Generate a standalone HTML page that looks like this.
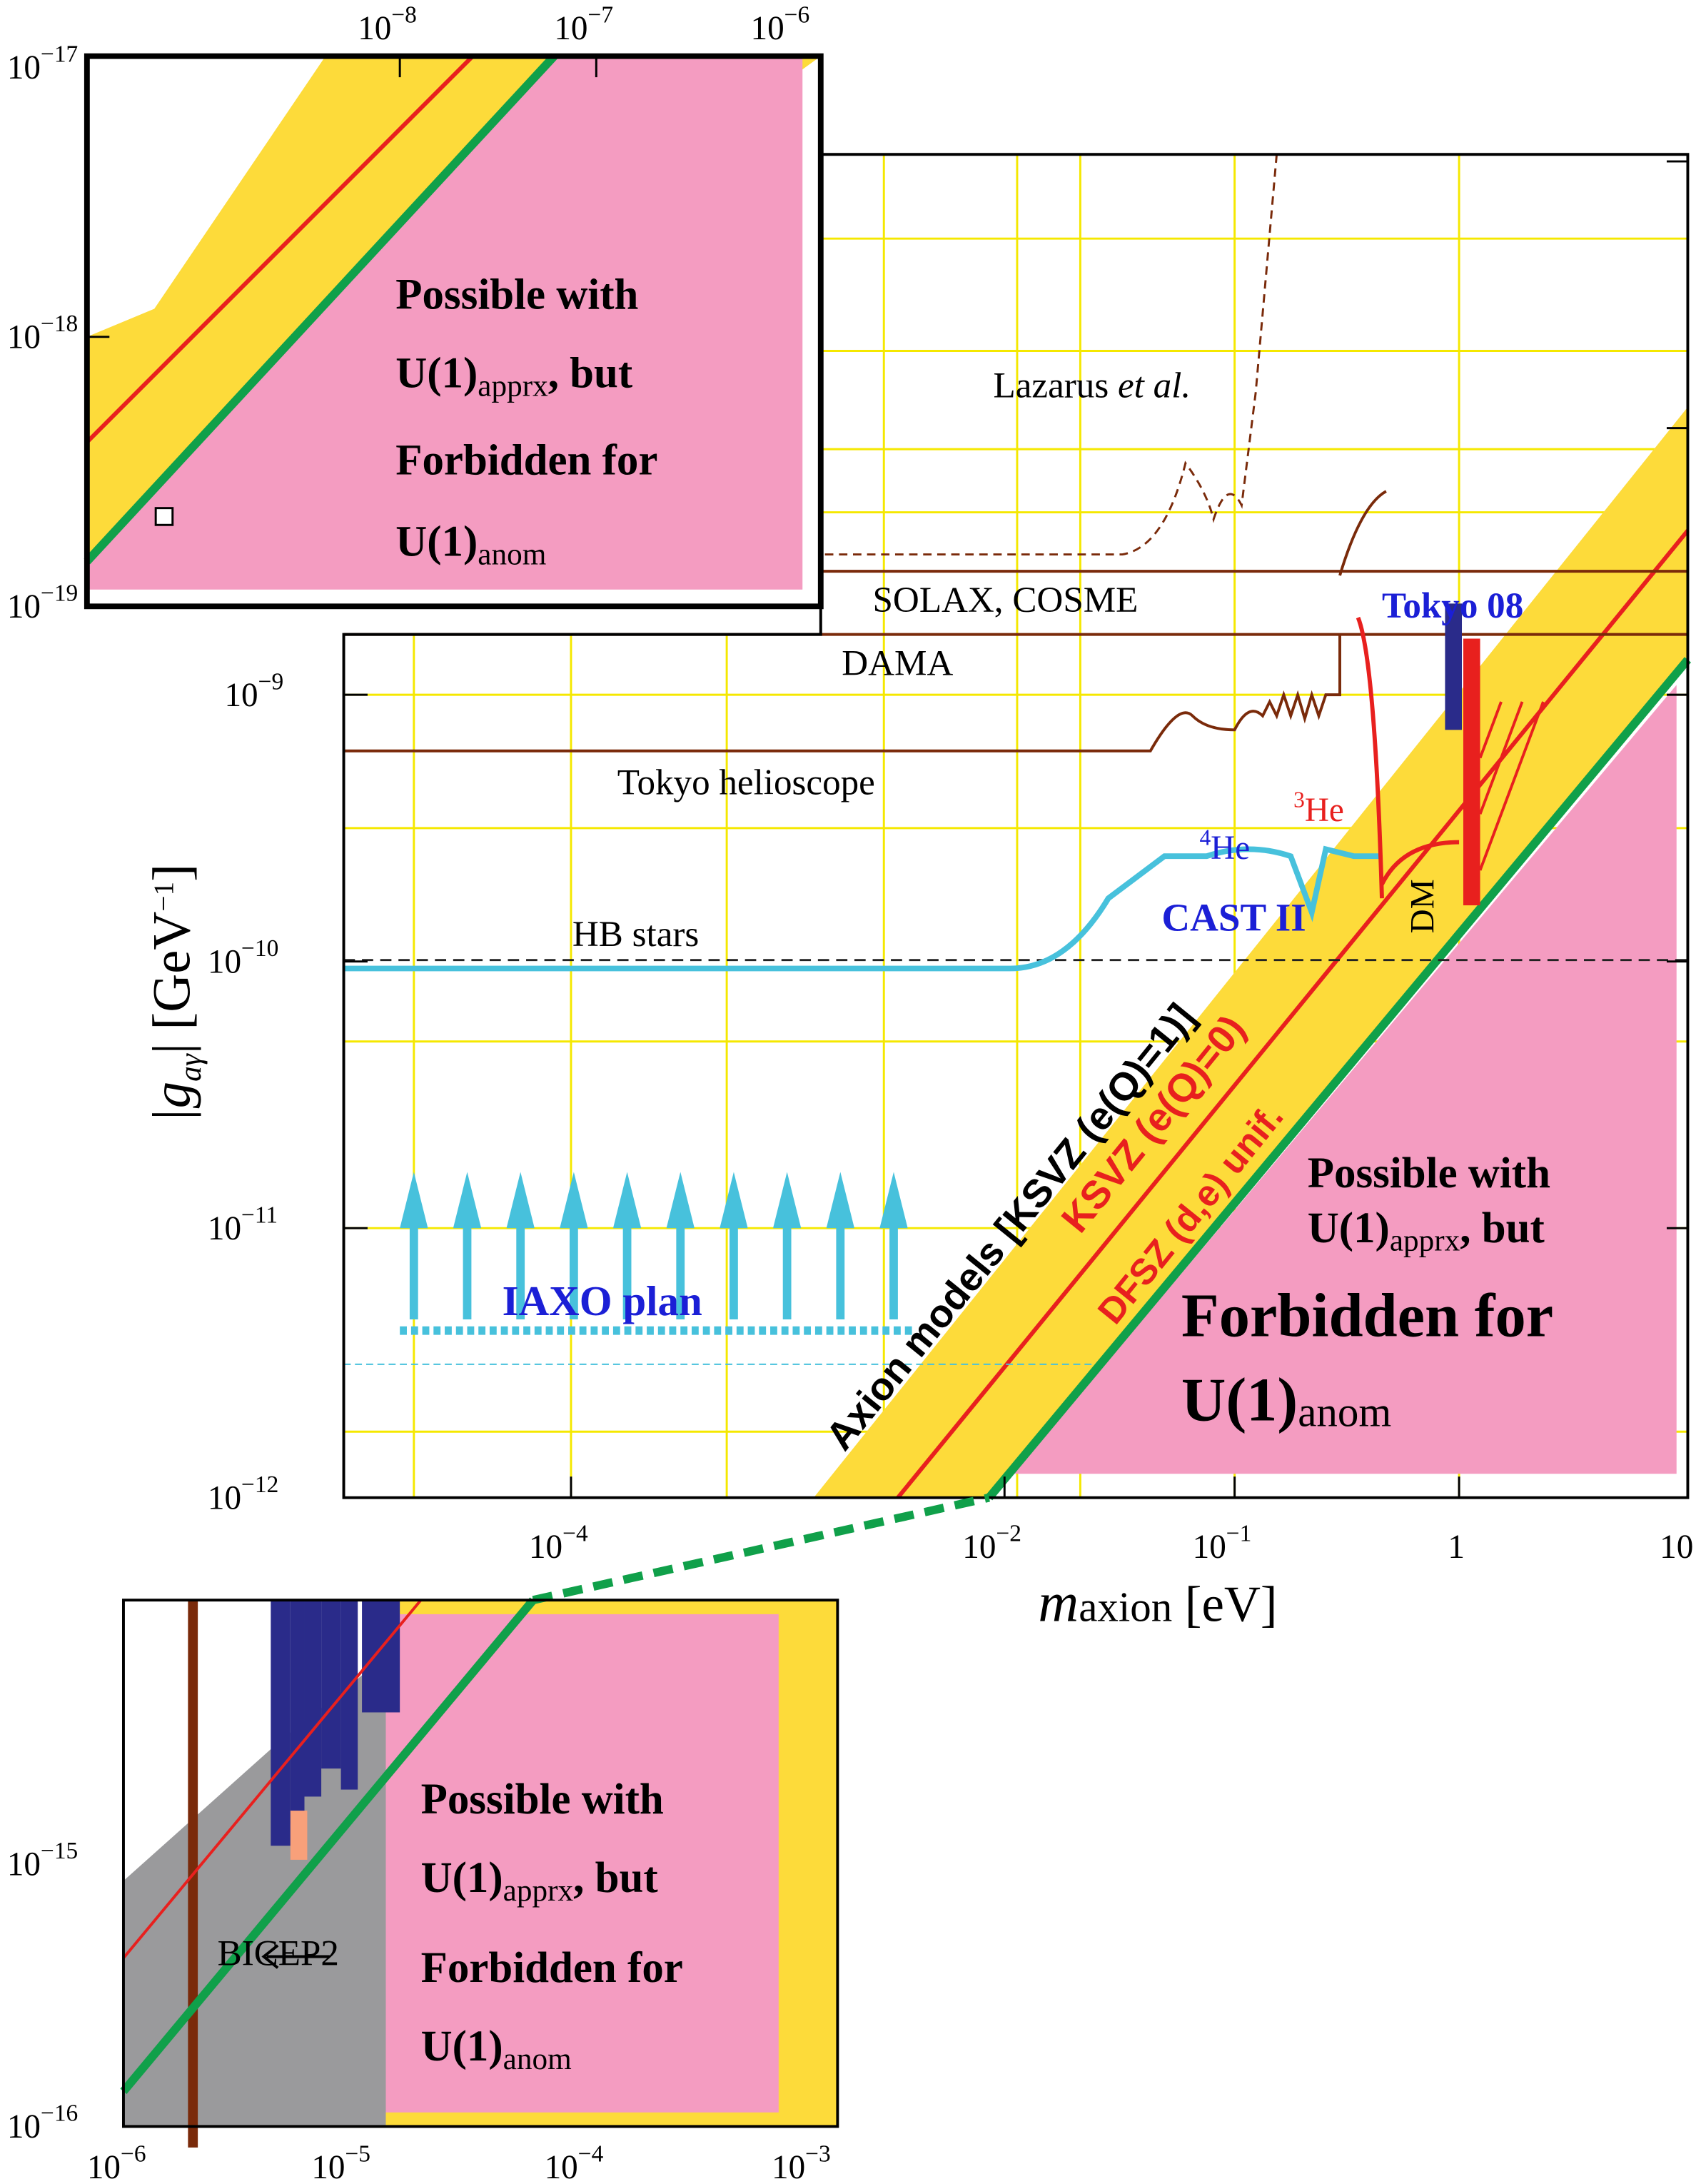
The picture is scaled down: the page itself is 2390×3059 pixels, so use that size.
<!DOCTYPE html>
<html><head><meta charset="utf-8"><style>
html,body{margin:0;padding:0;background:#fff}
svg{display:block}
text{font-family:"Liberation Serif",serif}
.s{font-family:"Liberation Sans",sans-serif;font-weight:bold}
</style></head><body>
<svg width="2390" height="3059" viewBox="0 0 1216 1556" preserveAspectRatio="none" xmlns="http://www.w3.org/2000/svg">
<rect width="1216" height="1556" fill="#fff"/>
<g stroke="#f5e800" stroke-width="1.5">
<line x1="295" y1="452" x2="295" y2="1067"/><line x1="407" y1="452" x2="407" y2="1067"/>
<line x1="518" y1="452" x2="518" y2="1067"/><line x1="630" y1="110" x2="630" y2="1067"/>
<line x1="725" y1="110" x2="725" y2="1067"/><line x1="770" y1="110" x2="770" y2="1067"/>
<line x1="880" y1="110" x2="880" y2="1067"/><line x1="1040" y1="110" x2="1040" y2="1067"/>
<line x1="245" y1="495" x2="1203" y2="495"/><line x1="245" y1="590" x2="1203" y2="590"/>
<line x1="245" y1="742" x2="1203" y2="742"/><line x1="245" y1="875" x2="1203" y2="875"/>
<line x1="245" y1="1020" x2="1203" y2="1020"/><line x1="585" y1="170" x2="1203" y2="170"/>
<line x1="585" y1="250" x2="1203" y2="250"/><line x1="585" y1="320" x2="1203" y2="320"/>
<line x1="585" y1="365" x2="1203" y2="365"/>
</g>
<polygon points="580,1067 1203,290 1203,470 705,1067" fill="#fddb3a"/>
<polygon points="722,1050 1195,488 1195,1050" fill="#f49cc1"/>
<line x1="640" y1="1067" x2="1203" y2="378" stroke="#e8201e" stroke-width="3"/>
<line x1="705" y1="1067" x2="1203" y2="470" stroke="#10a04a" stroke-width="6"/>
<g fill="none" stroke="#7a2a0a" stroke-width="2">
<line x1="245" y1="452" x2="1203" y2="452"/>
<line x1="585" y1="407" x2="1203" y2="407"/>
<path d="M245,535 L820,535 Q840,500 850,510 T880,520 Q890,500 900,510 L905,500 L910,510 L915,495 L920,510 L925,495 L930,512 L935,495 L940,510 L945,495 L955,495 L955,452"/>
<path d="M955,410 Q970,360 988,350"/>
<path d="M588,395 L800,395 Q830,390 845,330 Q860,350 865,370 Q875,340 885,360 L895,280 L910,110" stroke-dasharray="6,4" stroke-width="1.5"/>
</g>
<line x1="245" y1="684" x2="1203" y2="684" stroke="#222" stroke-width="1.5" stroke-dasharray="8,5"/>
<path d="M245,690 L720,690 Q760,690 790,640 L830,610 L860,610 Q890,600 920,610 L935,650 L945,605 L965,610 L985,610" fill="none" stroke="#47c1dc" stroke-width="4"/>
<path d="M985,630 Q1000,600 1040,600" fill="none" stroke="#e8201e" stroke-width="3"/>
<path d="M968,440 Q980,470 985,640" fill="none" stroke="#e8201e" stroke-width="3"/>
<rect x="1030" y="430" width="12" height="90" fill="#2a2b8a"/>
<rect x="1043" y="455" width="12" height="190" fill="#e8201e"/>
<g stroke="#e8201e" stroke-width="2"><line x1="1055" y1="620" x2="1100" y2="500"/><line x1="1055" y1="580" x2="1085" y2="500"/><line x1="1055" y1="540" x2="1070" y2="500"/></g>
<g fill="#47c1dc">
<polygon points="285,875 295,835 305,875"/><polygon points="323,875 333,835 343,875"/><polygon points="361,875 371,835 381,875"/>
<polygon points="399,875 409,835 419,875"/><polygon points="437,875 447,835 457,875"/><polygon points="475,875 485,835 495,875"/>
<polygon points="513,875 523,835 533,875"/><polygon points="551,875 561,835 571,875"/><polygon points="589,875 599,835 609,875"/>
<polygon points="627,875 637,835 647,875"/>
</g>
<g stroke="#47c1dc" stroke-width="6">
<line x1="295" y1="870" x2="295" y2="940"/><line x1="333" y1="870" x2="333" y2="940"/><line x1="371" y1="870" x2="371" y2="940"/>
<line x1="409" y1="870" x2="409" y2="940"/><line x1="447" y1="870" x2="447" y2="940"/><line x1="485" y1="870" x2="485" y2="940"/>
<line x1="523" y1="870" x2="523" y2="940"/><line x1="561" y1="870" x2="561" y2="940"/><line x1="599" y1="870" x2="599" y2="940"/>
<line x1="637" y1="870" x2="637" y2="940"/>
</g>
<line x1="285" y1="948" x2="650" y2="948" stroke="#47c1dc" stroke-width="6" stroke-dasharray="5,3"/>
<line x1="245" y1="972" x2="780" y2="972" stroke="#47c1dc" stroke-width="1" stroke-dasharray="5,3"/>
<path d="M245,452 L585,452 L585,110 L1203,110 L1203,1067 L245,1067 Z" fill="none" stroke="#000" stroke-width="2"/>
<g stroke="#000" stroke-width="1.5">
<line x1="245" y1="495" x2="262" y2="495"/><line x1="245" y1="685" x2="262" y2="685"/><line x1="245" y1="875" x2="262" y2="875"/>
<line x1="407" y1="1067" x2="407" y2="1052"/><line x1="716" y1="1067" x2="716" y2="1052"/><line x1="880" y1="1067" x2="880" y2="1052"/><line x1="1040" y1="1067" x2="1040" y2="1052"/>
<line x1="1203" y1="495" x2="1188" y2="495"/><line x1="1203" y1="685" x2="1188" y2="685"/><line x1="1203" y1="875" x2="1188" y2="875"/><line x1="1203" y1="305" x2="1188" y2="305"/><line x1="1203" y1="115" x2="1188" y2="115"/>
</g>
<g font-size="24">
<text x="160" y="503">10<tspan dy="-12" font-size="17">−9</tspan></text>
<text x="148" y="693">10<tspan dy="-12" font-size="17">−10</tspan></text>
<text x="148" y="883">10<tspan dy="-12" font-size="17">−11</tspan></text>
<text x="148" y="1075">10<tspan dy="-12" font-size="17">−12</tspan></text>
<text x="377" y="1110">10<tspan dy="-12" font-size="17">−4</tspan></text>
<text x="686" y="1110">10<tspan dy="-12" font-size="17">−2</tspan></text>
<text x="850" y="1110">10<tspan dy="-12" font-size="17">−1</tspan></text>
<text x="1032" y="1110">1</text>
<text x="1183" y="1110">10</text>
</g>
<text x="740" y="1155" font-size="40" font-style="italic">m<tspan font-style="normal" font-size="30">axion</tspan><tspan font-style="normal" font-size="36"> [eV]</tspan></text>
<text transform="translate(135,800) rotate(-90)" font-size="38"><tspan font-style="italic">|g</tspan><tspan font-size="22" font-style="italic" dy="8">aγ</tspan><tspan dy="-8">| [GeV</tspan><tspan font-size="20" dy="-12">−1</tspan><tspan dy="12">]</tspan></text>
<g font-size="26">
<text x="708" y="283">Lazarus <tspan font-style="italic">et al.</tspan></text>
<text x="622" y="436">SOLAX, COSME</text>
<text x="600" y="481">DAMA</text>
<text x="440" y="566">Tokyo helioscope</text>
<text x="408" y="674">HB stars</text>
</g>
<text x="985" y="440" font-size="26" font-weight="bold" fill="#1b1fd6">Tokyo 08</text>
<text x="855" y="612" font-size="24" fill="#1b1fd6"><tspan font-size="16" dy="-10">4</tspan><tspan dy="10">He</tspan></text>
<text x="922" y="585" font-size="24" fill="#e8201e"><tspan font-size="16" dy="-10">3</tspan><tspan dy="10">He</tspan></text>
<text x="828" y="663" font-size="28" font-weight="bold" fill="#1b1fd6">CAST II</text>
<text x="358" y="937" font-size="30" font-weight="bold" fill="#1b1fd6">IAXO plan</text>
<text transform="translate(1022,665) rotate(-90)" font-size="24">DM</text>
<text transform="translate(602,1035) rotate(-51)" font-size="28" class="s">Axion models  [KSVZ (e(Q)=1)]</text>
<text transform="translate(770,880) rotate(-51)" font-size="28" class="s" fill="#e8201e">KSVZ (e(Q)=0)</text>
<text transform="translate(795,945) rotate(-51)" font-size="26" class="s" fill="#e8201e">DFSZ (d,e) unif.</text>
<text x="932" y="846" font-size="31" font-weight="bold">Possible with</text>
<text x="932" y="885" font-size="31" font-weight="bold">U(1)<tspan font-size="22" font-weight="normal" dy="6">apprx</tspan><tspan dy="-6">, but</tspan></text>
<text x="842" y="952" font-size="44" font-weight="bold">Forbidden for</text>
<text x="842" y="1012" font-size="44" font-weight="bold">U(1)<tspan font-size="30" font-weight="normal" dy="4">anom</tspan></text>

<rect x="62" y="40" width="523" height="392" fill="#fff"/>
<polygon points="62,240 110,220 232,40 585,40 62,420" fill="#fddb3a"/>
<polygon points="395,40 572,40 572,420 62,420 62,400" fill="#f49cc1"/>
<line x1="62" y1="400" x2="395" y2="40" stroke="#10a04a" stroke-width="6"/>
<line x1="62" y1="315" x2="337" y2="40" stroke="#e8201e" stroke-width="3"/>
<rect x="111" y="362" width="12" height="12" fill="#fff" stroke="#000" stroke-width="1.5"/>
<rect x="62" y="40" width="523" height="392" fill="none" stroke="#000" stroke-width="4"/>
<g stroke="#000" stroke-width="1.5"><line x1="285" y1="40" x2="285" y2="55"/><line x1="425" y1="40" x2="425" y2="55"/><line x1="62" y1="240" x2="78" y2="240"/></g>
<g font-size="24">
<text x="255" y="28">10<tspan dy="-12" font-size="17">−8</tspan></text>
<text x="395" y="28">10<tspan dy="-12" font-size="17">−7</tspan></text>
<text x="535" y="28">10<tspan dy="-12" font-size="17">−6</tspan></text>
<text x="5" y="56">10<tspan dy="-12" font-size="17">−17</tspan></text>
<text x="5" y="248">10<tspan dy="-12" font-size="17">−18</tspan></text>
<text x="5" y="440">10<tspan dy="-12" font-size="17">−19</tspan></text>
</g>
<g font-size="31" font-weight="bold">
<text x="282" y="220">Possible with</text>
<text x="282" y="276">U(1)<tspan font-size="22" font-weight="normal" dy="6">apprx</tspan><tspan dy="-6">, but</tspan></text>
<text x="282" y="338">Forbidden for</text>
<text x="282" y="396">U(1)<tspan font-size="22" font-weight="normal" dy="6">anom</tspan></text>
</g>

<polygon points="275,1140 597,1140 597,1515 275,1515" fill="#fddb3a"/>
<polygon points="88,1340 200,1240 275,1180 275,1515 88,1515" fill="#9a9a9c"/>
<polygon points="275,1150 555,1150 555,1505 275,1505" fill="#f49cc1"/>
<g fill="#2a2b8a"><rect x="193" y="1140" width="14" height="175"/><rect x="207" y="1140" width="10" height="160"/><rect x="217" y="1140" width="12" height="140"/><rect x="229" y="1140" width="14" height="120"/><rect x="243" y="1140" width="12" height="135"/><rect x="258" y="1140" width="27" height="80"/></g>
<rect x="207" y="1290" width="12" height="35" fill="#f8a07a"/>
<rect x="134" y="1140" width="7" height="390" fill="#7a2a0a"/>
<line x1="88" y1="1395" x2="300" y2="1140" stroke="#e8201e" stroke-width="2"/>
<line x1="88" y1="1490" x2="380" y2="1140" stroke="#10a04a" stroke-width="6"/>
<line x1="380" y1="1140" x2="705" y2="1067" stroke="#10a04a" stroke-width="6" stroke-dasharray="14,8"/>
<rect x="88" y="1140" width="509" height="375" fill="none" stroke="#000" stroke-width="2"/>
<text x="155" y="1400" font-size="26">BICEP2</text>
<path d="M235,1394 L190,1394 M198,1386 L188,1394 L198,1402" stroke="#000" stroke-width="2" fill="none"/>
<g font-size="24">
<text x="5" y="1336">10<tspan dy="-12" font-size="17">−15</tspan></text>
<text x="5" y="1523">10<tspan dy="-12" font-size="17">−16</tspan></text>
<text x="62" y="1552">10<tspan dy="-12" font-size="17">−6</tspan></text>
<text x="222" y="1552">10<tspan dy="-12" font-size="17">−5</tspan></text>
<text x="388" y="1552">10<tspan dy="-12" font-size="17">−4</tspan></text>
<text x="550" y="1552">10<tspan dy="-12" font-size="17">−3</tspan></text>
</g>
<g font-size="31" font-weight="bold">
<text x="300" y="1292">Possible with</text>
<text x="300" y="1348">U(1)<tspan font-size="22" font-weight="normal" dy="6">apprx</tspan><tspan dy="-6">, but</tspan></text>
<text x="300" y="1412">Forbidden for</text>
<text x="300" y="1468">U(1)<tspan font-size="22" font-weight="normal" dy="6">anom</tspan></text>
</g>
</svg>
</body></html>
